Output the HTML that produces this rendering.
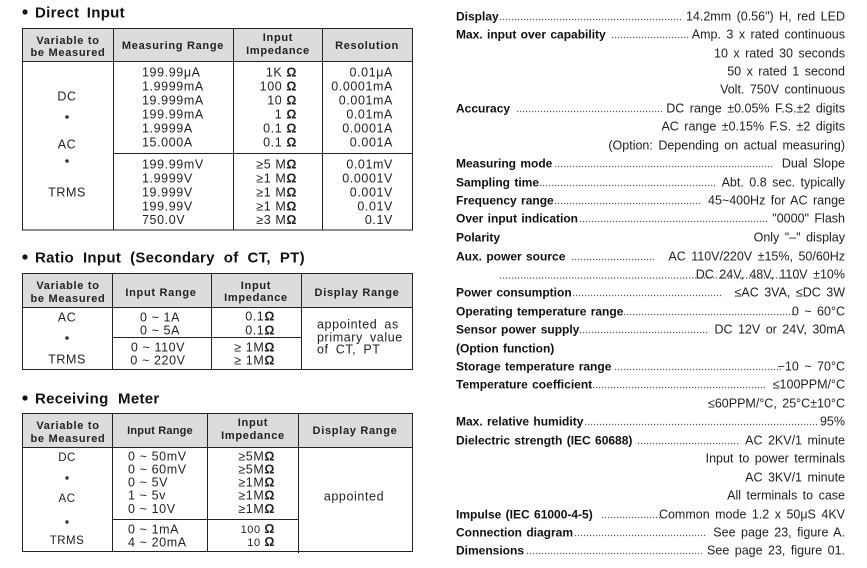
<!DOCTYPE html>
<html>
<head>
<meta charset="utf-8">
<style>
  html,body{margin:0;padding:0;background:#fff;}
  svg{display:block;}
  .h{font-size:11px;font-weight:bold;letter-spacing:0.7px;fill:#222;}
  .b{font-size:12.5px;letter-spacing:0.6px;fill:#222;}
  .tt{font-size:15px;font-weight:bold;fill:#111;word-spacing:3px;letter-spacing:0.3px;}
  .lb{font-size:12px;font-weight:bold;fill:#111;word-spacing:1px;}
  .v{font-size:12.5px;fill:#222;word-spacing:2px;}
  .dot{stroke:#555;stroke-width:1.2;stroke-dasharray:1.2 1.8;}
  .ln{stroke:#222;stroke-width:1;fill:none;}
</style>
</head>
<body>
<svg width="867" height="568" viewBox="0 0 867 568" xmlns="http://www.w3.org/2000/svg" font-family="'Liberation Sans', Arial, sans-serif">
<rect width="867" height="568" fill="#fff"/>

<!-- ========== Titles ========== -->
<circle cx="25" cy="12" r="2.6" fill="#111"/>
<text class="tt" x="35" y="17.4">Direct Input</text>
<circle cx="25" cy="257" r="2.6" fill="#111"/>
<text class="tt" x="35" y="262.4" style="word-spacing:4.5px">Ratio Input (Secondary of CT, PT)</text>
<circle cx="25" cy="398" r="2.6" fill="#111"/>
<text class="tt" x="35" y="403.4" style="word-spacing:5px">Receiving Meter</text>

<!-- ========== Table 1: Direct Input ========== -->
<rect x="22.5" y="28.5" width="390" height="33" fill="#dcdcdc"/>
<rect class="ln" x="22.5" y="28.5" width="390" height="201.5"/>
<line class="ln" x1="22.5" y1="61.5" x2="412.5" y2="61.5"/>
<line class="ln" x1="113.5" y1="28.5" x2="113.5" y2="230"/>
<line class="ln" x1="233.5" y1="28.5" x2="233.5" y2="230"/>
<line class="ln" x1="322.5" y1="28.5" x2="322.5" y2="230"/>
<line class="ln" x1="113.5" y1="153.5" x2="412.5" y2="153.5"/>

<text class="h" x="68" y="44" text-anchor="middle">Variable to</text>
<text class="h" x="68" y="56" text-anchor="middle">be Measured</text>
<text class="h" x="173" y="49" text-anchor="middle">Measuring Range</text>
<text class="h" x="278" y="41" text-anchor="middle">Input</text>
<text class="h" x="278" y="54" text-anchor="middle">Impedance</text>
<text class="h" x="367" y="49" text-anchor="middle">Resolution</text>

<text class="b" x="67" y="100.5" text-anchor="middle">DC</text>
<circle cx="67" cy="117" r="1.8" fill="#333"/>
<text class="b" x="67" y="148.5" text-anchor="middle">AC</text>
<circle cx="67" cy="161" r="1.8" fill="#333"/>
<text class="b" x="67" y="196.5" text-anchor="middle">TRMS</text>

<g class="b">
<text x="142" y="76.5">199.99μA</text>
<text x="142" y="90.5">1.9999mA</text>
<text x="142" y="104.5">19.999mA</text>
<text x="142" y="118.5">199.99mA</text>
<text x="142" y="132.5">1.9999A</text>
<text x="142" y="146.5">15.000A</text>
<text x="142" y="168.5">199.99mV</text>
<text x="142" y="182.5">1.9999V</text>
<text x="142" y="196.5">19.999V</text>
<text x="142" y="210.5">199.99V</text>
<text x="142" y="224">750.0V</text>
</g>
<g class="b" text-anchor="end">
<text x="297" y="76.5">1K <tspan font-weight="bold">Ω</tspan></text>
<text x="297" y="90.5">100 <tspan font-weight="bold">Ω</tspan></text>
<text x="297" y="104.5">10 <tspan font-weight="bold">Ω</tspan></text>
<text x="297" y="118.5">1 <tspan font-weight="bold">Ω</tspan></text>
<text x="297" y="132.5">0.1 <tspan font-weight="bold">Ω</tspan></text>
<text x="297" y="146.5">0.1 <tspan font-weight="bold">Ω</tspan></text>
<text x="297" y="168.5">≥5 M<tspan font-weight="bold">Ω</tspan></text>
<text x="297" y="182.5">≥1 M<tspan font-weight="bold">Ω</tspan></text>
<text x="297" y="196.5">≥1 M<tspan font-weight="bold">Ω</tspan></text>
<text x="297" y="210.5">≥1 M<tspan font-weight="bold">Ω</tspan></text>
<text x="297" y="224">≥3 M<tspan font-weight="bold">Ω</tspan></text>
</g>
<g class="b" text-anchor="end">
<text x="393" y="76.5">0.01μA</text>
<text x="393" y="90.5">0.0001mA</text>
<text x="393" y="104.5">0.001mA</text>
<text x="393" y="118.5">0.01mA</text>
<text x="393" y="132.5">0.0001A</text>
<text x="393" y="146.5">0.001A</text>
<text x="393" y="168.5">0.01mV</text>
<text x="393" y="182.5">0.0001V</text>
<text x="393" y="196.5">0.001V</text>
<text x="393" y="210.5">0.01V</text>
<text x="393" y="224">0.1V</text>
</g>

<!-- ========== Table 2: Ratio Input ========== -->
<rect x="22.5" y="273.5" width="390" height="34" fill="#dcdcdc"/>
<rect class="ln" x="22.5" y="273.5" width="390" height="96"/>
<line class="ln" x1="22.5" y1="307.5" x2="412.5" y2="307.5"/>
<line class="ln" x1="112.5" y1="273.5" x2="112.5" y2="369.5"/>
<line class="ln" x1="211.5" y1="273.5" x2="211.5" y2="369.5"/>
<line class="ln" x1="301.5" y1="273.5" x2="301.5" y2="369.5"/>
<line class="ln" x1="112.5" y1="337.5" x2="301.5" y2="337.5"/>

<text class="h" x="68" y="289" text-anchor="middle">Variable to</text>
<text class="h" x="68" y="302" text-anchor="middle">be Measured</text>
<text class="h" x="161" y="296" text-anchor="middle">Input Range</text>
<text class="h" x="256" y="289" text-anchor="middle">Input</text>
<text class="h" x="256" y="301" text-anchor="middle">Impedance</text>
<text class="h" x="357" y="296" text-anchor="middle">Display Range</text>

<text class="b" x="67" y="321.5" text-anchor="middle">AC</text>
<circle cx="67" cy="338" r="1.8" fill="#333"/>
<text class="b" x="67" y="363.5" text-anchor="middle">TRMS</text>

<g class="b" text-anchor="middle">
<text x="160" y="321.5">0 ~ 1A</text>
<text x="160" y="334.5">0 ~ 5A</text>
<text x="158" y="351.5">0 ~ 110V</text>
<text x="158" y="364.5">0 ~ 220V</text>
</g>
<g class="b" text-anchor="end">
<text x="275" y="320.5">0.1<tspan font-weight="bold">Ω</tspan></text>
<text x="275" y="334.5">0.1<tspan font-weight="bold">Ω</tspan></text>
<text x="275" y="351.5">≥ 1M<tspan font-weight="bold">Ω</tspan></text>
<text x="275" y="364.5">≥ 1M<tspan font-weight="bold">Ω</tspan></text>
</g>
<g class="b" style="word-spacing:3px">
<text x="317" y="328.5">appointed as</text>
<text x="317" y="341.5">primary value</text>
<text x="317" y="353.5">of CT, PT</text>
</g>

<!-- ========== Table 3: Receiving Meter ========== -->
<rect x="22.5" y="413.5" width="390" height="34" fill="#dcdcdc"/>
<rect class="ln" x="22.5" y="413.5" width="390" height="138"/>
<line class="ln" x1="22.5" y1="447.5" x2="412.5" y2="447.5"/>
<line class="ln" x1="112.5" y1="413.5" x2="112.5" y2="551.5"/>
<line class="ln" x1="207.5" y1="413.5" x2="207.5" y2="551.5"/>
<line class="ln" x1="298.5" y1="413.5" x2="298.5" y2="553"/>
<line class="ln" x1="112.5" y1="519.5" x2="298.5" y2="519.5"/>

<text class="h" x="68" y="429" text-anchor="middle">Variable to</text>
<text class="h" x="68" y="442" text-anchor="middle">be Measured</text>
<text class="h" x="160" y="434" text-anchor="middle" style="letter-spacing:0.2px">Input Range</text>
<text class="h" x="253" y="426" text-anchor="middle">Input</text>
<text class="h" x="253" y="439" text-anchor="middle">Impedance</text>
<text class="h" x="355" y="434" text-anchor="middle">Display Range</text>

<g style="font-size:11.5px;fill:#222;letter-spacing:0.5px" text-anchor="middle">
<text x="67" y="461">DC</text>
<text x="67" y="502">AC</text>
<text x="67" y="544">TRMS</text>
</g>
<circle cx="67" cy="478" r="1.7" fill="#333"/>
<circle cx="67" cy="522" r="1.7" fill="#333"/>

<g class="b">
<text x="128" y="460.5">0 ~ 50mV</text>
<text x="128" y="473.5">0 ~ 60mV</text>
<text x="128" y="486.5">0 ~ 5V</text>
<text x="128" y="499.5">1 ~ 5v</text>
<text x="128" y="513">0 ~ 10V</text>
<text x="128" y="533.5">0 ~ 1mA</text>
<text x="128" y="546.5">4 ~ 20mA</text>
</g>
<g class="b" text-anchor="end">
<text x="275" y="460.5">≥5M<tspan font-weight="bold">Ω</tspan></text>
<text x="275" y="473.5">≥5M<tspan font-weight="bold">Ω</tspan></text>
<text x="275" y="486.5">≥1M<tspan font-weight="bold">Ω</tspan></text>
<text x="275" y="499.5">≥1M<tspan font-weight="bold">Ω</tspan></text>
<text x="275" y="513">≥1M<tspan font-weight="bold">Ω</tspan></text>
<text x="275" y="533" style="font-size:11px">100 <tspan font-weight="bold" style="font-size:12.5px">Ω</tspan></text>
<text x="275" y="546" style="font-size:11px">10 <tspan font-weight="bold" style="font-size:12.5px">Ω</tspan></text>
</g>
<text class="b" x="354" y="500.5" text-anchor="middle">appointed</text>

<!-- ========== Right side specs ========== -->
<g class="lb">
<text x="456" y="20.3">Display</text>
<text x="456" y="38.3">Max. input over capability</text>
<text x="456" y="112.3">Accuracy</text>
<text x="456" y="167.3">Measuring mode</text>
<text x="456" y="186.3">Sampling time</text>
<text x="456" y="204.3">Frequency range</text>
<text x="456" y="222.3">Over input indication</text>
<text x="456" y="241.3">Polarity</text>
<text x="456" y="260.3">Aux. power source</text>
<text x="456" y="296.3">Power consumption</text>
<text x="456" y="315.3">Operating temperature range</text>
<text x="456" y="333.3">Sensor power supply</text>
<text x="456" y="352.3">(Option function)</text>
<text x="456" y="370.3">Storage temperature range</text>
<text x="456" y="388.3">Temperature coefficient</text>
<text x="456" y="425.3">Max. relative humidity</text>
<text x="456" y="444.3">Dielectric strength (IEC 60688)</text>
<text x="456" y="518.3">Impulse (IEC 61000-4-5)</text>
<text x="456" y="536.3">Connection diagram</text>
<text x="456" y="554.3">Dimensions</text>
</g>

<g>
<line class="dot" x1="500" y1="19.5" x2="681" y2="19.5"/>
<line class="dot" x1="612" y1="37.5" x2="690" y2="37.5"/>
<line class="dot" x1="517" y1="111.5" x2="662" y2="111.5"/>
<line class="dot" x1="555" y1="166.5" x2="773" y2="166.5"/>
<line class="dot" x1="540" y1="185.5" x2="715" y2="185.5"/>
<line class="dot" x1="555" y1="203.5" x2="702" y2="203.5"/>
<line class="dot" x1="580" y1="221.5" x2="767" y2="221.5"/>
<line class="dot" x1="572" y1="259.5" x2="654" y2="259.5"/>
<line class="dot" x1="500" y1="278" x2="806" y2="278"/>
<line class="dot" x1="573" y1="295.5" x2="723" y2="295.5"/>
<line class="dot" x1="624" y1="314.5" x2="795" y2="314.5"/>
<line class="dot" x1="580" y1="332.5" x2="708" y2="332.5"/>
<line class="dot" x1="615" y1="369.5" x2="782" y2="369.5"/>
<line class="dot" x1="593" y1="387.5" x2="765" y2="387.5"/>
<line class="dot" x1="585" y1="424.5" x2="817" y2="424.5"/>
<line class="dot" x1="638" y1="443.5" x2="740" y2="443.5"/>
<line class="dot" x1="602" y1="517.5" x2="660" y2="517.5"/>
<line class="dot" x1="575" y1="535.5" x2="707" y2="535.5"/>
<line class="dot" x1="527" y1="553.5" x2="702" y2="553.5"/>
</g>

<g class="v" text-anchor="end">
<text x="845" y="20.5">14.2mm (0.56") H, red LED</text>
<text x="845" y="38.5">Amp. 3 x rated continuous</text>
<text x="845" y="57.5">10 x rated 30 seconds</text>
<text x="845" y="75.5">50 x rated 1 second</text>
<text x="845" y="93.5">Volt. 750V continuous</text>
<text x="845" y="112.5">DC range ±0.05% F.S.±2 digits</text>
<text x="845" y="130.5">AC range ±0.15% F.S. ±2 digits</text>
<text x="845" y="149.5">(Option: Depending on actual measuring)</text>
<text x="845" y="167.5">Dual Slope</text>
<text x="845" y="186.5">Abt. 0.8 sec. typically</text>
<text x="845" y="204.5">45~400Hz for AC range</text>
<text x="845" y="222.5">"0000" Flash</text>
<text x="845" y="241.5">Only "–" display</text>
<text x="845" y="260.5">AC 110V/220V ±15%, 50/60Hz</text>
<text x="845" y="278.5">DC 24V, 48V, 110V ±10%</text>
<text x="845" y="296.5">≤AC 3VA, ≤DC 3W</text>
<text x="845" y="315.5">0 ~ 60°C</text>
<text x="845" y="333.5">DC 12V or 24V, 30mA</text>
<text x="845" y="370.5">−10 ~ 70°C</text>
<text x="845" y="388.5">≤100PPM/°C</text>
<text x="845" y="407.5">≤60PPM/°C, 25°C±10°C</text>
<text x="845" y="425.5">95%</text>
<text x="845" y="444.5">AC 2KV/1 minute</text>
<text x="845" y="462.5">Input to power terminals</text>
<text x="845" y="481.5">AC 3KV/1 minute</text>
<text x="845" y="499.5">All terminals to case</text>
<text x="845" y="518.5">Common mode 1.2 x 50μS 4KV</text>
<text x="845" y="536.5">See page 23, figure A.</text>
<text x="845" y="554.5">See page 23, figure 01.</text>
</g>
</svg>
</body>
</html>
